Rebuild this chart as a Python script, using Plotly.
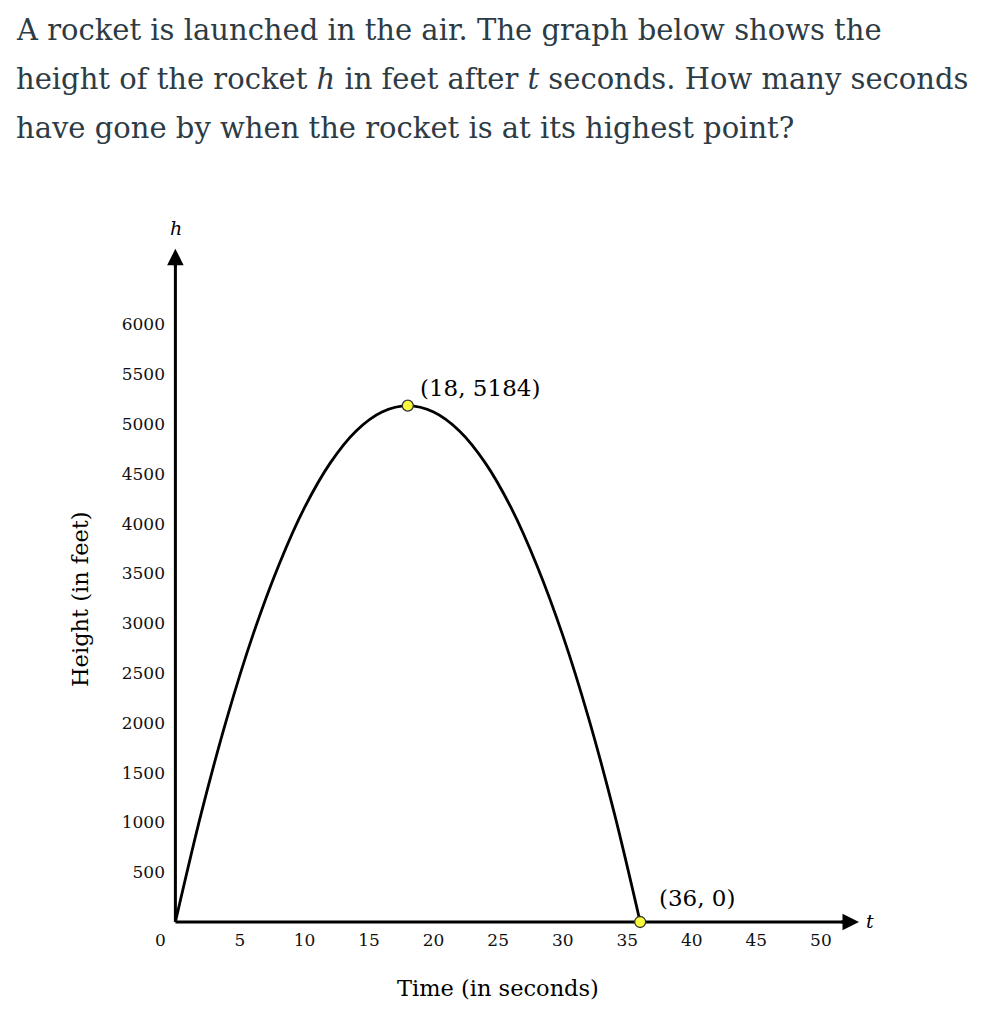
import plotly.graph_objects as go

# ---- data ----
t_vals = [0, 2, 4, 6, 8, 10, 12, 14, 16, 18, 20, 22, 24, 26, 28, 30, 32, 34, 36]
h_vals = [0, 1090, 2050, 2880, 3580, 4160, 4610, 4930, 5120, 5184,
          5120, 4930, 4610, 4160, 3580, 2880, 2050, 1090, 0]
key_t = [18, 36]
key_h = [5184, 0]
key_labels = ["(18, 5184)", "(36, 0)"]
x_ticks = [5, 10, 15, 20, 25, 30, 35, 40, 45, 50]
y_ticks = [500, 1000, 1500, 2000, 2500, 3000, 3500, 4000, 4500, 5000, 5500, 6000]
question_lines = [
    "A rocket is launched in the air. The graph below shows the",
    "height of the rocket <i>h</i> in feet after <i>t</i> seconds. How many seconds",
    "have gone by when the rocket is at its highest point?",
]

OFF = 8                      # page body margin
W, H = 970, 997              # figure size
X0, SX = 175.4 - OFF, 12.91  # figure pixel of t=0, px per second
Y0, SY = 922.0 - OFF, 0.0996 # figure pixel of h=0, px per foot

X_TIP, Y_TIP = 52.95, 6760   # axis arrow tips


def px(page_x):
    return (page_x - OFF) / W


def py(page_y):
    return 1 - (page_y - OFF) / H


x_range = [-X0 / SX, (W - X0) / SX]
y_range = [-(H - Y0) / SY, Y0 / SY]

SERIF = "DejaVu Serif"
TXT = "#2d3b45"

fig = go.Figure()
fig.add_trace(go.Scatter(x=t_vals, y=h_vals, mode="lines",
                         line=dict(color="black", width=2.8, shape="spline", smoothing=1.0),
                         hoverinfo="skip", showlegend=False))
fig.add_trace(go.Scatter(x=key_t, y=key_h, mode="markers",
                         marker=dict(size=11, color="#fafa3c", line=dict(color="#333333", width=1.3)),
                         hoverinfo="skip", showlegend=False))

# axis lines (below the traces)
shapes = [
    dict(type="line", xref="x", yref="y", x0=0, y0=0, x1=X_TIP - 1.0, y1=0,
         line=dict(color="black", width=3), layer="below"),
    dict(type="line", xref="x", yref="y", x0=0, y0=0, x1=0, y1=Y_TIP - 100,
         line=dict(color="black", width=3), layer="below"),
]

annotations = []
# axis arrowheads
annotations.append(dict(x=X_TIP, y=0, ax=X_TIP - 1.5, ay=0, xref="x", yref="y", axref="x", ayref="y",
                        text="", showarrow=True, arrowhead=2, arrowsize=1.1, arrowwidth=3, arrowcolor="black"))
annotations.append(dict(x=0, y=Y_TIP, ax=0, ay=Y_TIP - 200, xref="x", yref="y", axref="x", ayref="y",
                        text="", showarrow=True, arrowhead=2, arrowsize=1.1, arrowwidth=3, arrowcolor="black"))
# axis letters
annotations.append(dict(x=px(176), y=py(228), xref="paper", yref="paper", text="<i>h</i>", showarrow=False,
                        font=dict(family=SERIF, size=19, color="black"), xanchor="center", yanchor="middle"))
annotations.append(dict(x=px(870), y=py(921), xref="paper", yref="paper", text="<i>t</i>", showarrow=False,
                        font=dict(family=SERIF, size=19, color="black"), xanchor="center", yanchor="middle"))
# origin label
annotations.append(dict(x=px(160), y=py(940), xref="paper", yref="paper", text="0", showarrow=False,
                        font=dict(family=SERIF, size=17, color="#111111"), xanchor="center", yanchor="middle"))
# point labels
label_offsets = [(0.8, 175), (1.3, 240)]
for (tx, hy), lab, (dx, dy) in zip(zip(key_t, key_h), key_labels, label_offsets):
    annotations.append(dict(x=tx + dx, y=hy + dy, xref="x", yref="y", text=lab, showarrow=False,
                            font=dict(family=SERIF, size=23, color="black"),
                            xanchor="left", yanchor="middle"))
# axis titles
annotations.append(dict(x=px(498), y=py(988), xref="paper", yref="paper", text="Time (in seconds)",
                        showarrow=False, font=dict(family=SERIF, size=22.5, color="black"),
                        xanchor="center", yanchor="middle"))
annotations.append(dict(x=px(80), y=py(599), xref="paper", yref="paper", text="Height (in feet)",
                        showarrow=False, textangle=-90, font=dict(family=SERIF, size=22.5, color="black"),
                        xanchor="center", yanchor="middle"))
# question text
for i, line in enumerate(question_lines):
    annotations.append(dict(x=px(14), y=py(30 + 49 * i), xref="paper", yref="paper", text=line,
                            showarrow=False, font=dict(family=SERIF, size=29, color=TXT),
                            xanchor="left", yanchor="middle"))

fig.update_layout(
    width=W, height=H, margin=dict(l=0, r=0, t=0, b=0),
    paper_bgcolor="white", plot_bgcolor="white",
    xaxis=dict(range=x_range, showgrid=False, zeroline=False, showline=False,
               tickvals=x_ticks, ticktext=[str(v) for v in x_ticks],
               ticks="outside", ticklen=3, tickcolor="rgba(0,0,0,0)",
               anchor="free", position=1 - Y0 / H,
               tickfont=dict(family=SERIF, size=17, color="#111111")),
    yaxis=dict(range=y_range, showgrid=False, zeroline=False, showline=False,
               tickvals=y_ticks, ticktext=[str(v) for v in y_ticks],
               ticks="outside", ticklen=7, tickcolor="rgba(0,0,0,0)",
               anchor="free", position=X0 / W,
               tickfont=dict(family=SERIF, size=17, color="#111111")),
    shapes=shapes,
    annotations=annotations,
)

fig.write_html("out.html")
